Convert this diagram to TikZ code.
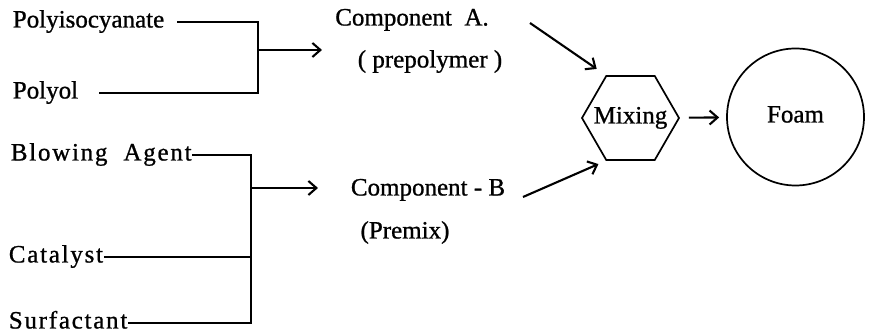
\documentclass[tikz,border=0pt]{standalone}
\usepackage{fontspec}
\setmainfont{Liberation Serif}[FakeBold=0.9]
\newfontfamily\spacedfont[LetterSpace=7,FakeBold=0.9]{Liberation Serif}
\usetikzlibrary{arrows.meta,shapes.geometric}
\begin{document}
\begin{tikzpicture}[x=1pt,y=1pt,>={Straight Barb[length=8pt,width=14pt]},line width=1.7pt,
  txt/.style={font=\fontsize{25}{29}\selectfont,inner sep=0pt,text height=16pt,text depth=5pt},
  src/.style={txt,anchor=west},
  wide/.style={src,font=\fontsize{25}{29}\spacedfont},
  feed/.style={->,line width=2.1pt},
  mixer/.style={txt,draw,regular polygon,regular polygon sides=6,minimum size=97pt},
  product/.style={txt,draw,circle,minimum size=137pt}]
\useasboundingbox (0,0) rectangle (870,334);
\node[src] (iso) at (12,312) {Polyisocyanate};
\node[src] (pol) at (12,241) {Polyol};
\node[wide] (blow) at (10,179) {Blowing~~Agent};
\node[wide] (cat) at (8,77) {Catalyst};
\node[wide] (surf) at (8,11) {Surfactant};
\coordinate (busA) at (258,284);
\coordinate (busB) at (251,146);
\node[txt] (compA) at (412,314) {Component~~A.};
\node[txt] (preA) at (430,272) {( prepolymer )};
\node[txt] (compB) at (428,144) {Component - B};
\node[txt] (preB) at (405,101) {(Premix)};
\coordinate (inA) at (322,284);
\coordinate (inB) at (318,146);
\coordinate (outA) at (530,311);
\coordinate (outB) at (523,137);
\node[mixer] (mix) at (630.5,216) {\makebox[0pt]{Mixing}};
\node[product] (foam) at (795.5,217) {Foam};
\draw[shorten <=12pt,shorten >=20pt] (iso) -| (busA) |- (pol);
\draw (blow) -| (busB) |- (surf);
\draw (cat) -- (cat -| busB);
\draw[feed] (busA) -- (inA);
\draw[feed] (busB) -- (inB);
\draw[feed,shorten >=11pt] (outA) -- (mix.corner 2);
\draw[feed,shorten >=8pt] (outB) -- (mix.corner 4);
\draw[feed,shorten <=9pt,shorten >=7pt] (mix) -- (foam);
\end{tikzpicture}
\end{document}
